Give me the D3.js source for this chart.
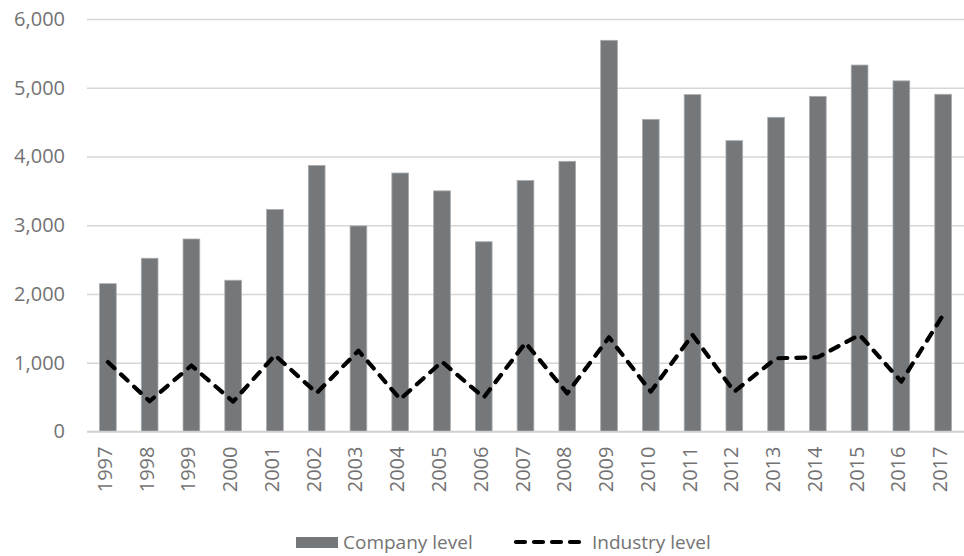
<!DOCTYPE html>
<html><head><meta charset="utf-8">
<script src="https://cdn.jsdelivr.net/npm/d3@7"></script>
<style>
body{margin:0;background:#fff;}
text{font-family:"Open Sans","Lato",sans-serif;fill:#737373;}
</style></head>
<body><svg id="c" width="964" height="556"></svg>
<script>
const years = ["1997","1998","1999","2000","2001","2002","2003","2004","2005","2006","2007","2008","2009","2010","2011","2012","2013","2014","2015","2016","2017"];
const companyLevel = [2150,2520,2800,2200,3230,3870,2990,3760,3500,2760,3650,3930,5690,4540,4900,4230,4570,4875,5330,5100,4905];
const industryLevel = [1010,440,960,435,1110,560,1175,470,1015,495,1290,555,1370,580,1405,580,1065,1080,1405,725,1695];
const yTicks = [0,1000,2000,3000,4000,5000,6000];
const seriesNames = ["Company level","Industry level"];

const svg = d3.select("#c");
const m = {left:87, right:964, top:19, bottom:431.5};
const x = d3.scaleBand().domain(years).range([m.left,m.right]).paddingInner(0.6).paddingOuter(0.3);
const y = d3.scaleLinear().domain([0,6000]).range([m.bottom,m.top]);
const fmt = d3.format(",");

// grid
const yAxis = d3.axisLeft(y).tickValues(yTicks).tickFormat(fmt).tickSize(-(m.right-m.left)).tickPadding(22);
const gy = svg.append("g").attr("transform",`translate(${m.left},0)`).call(yAxis);
gy.select(".domain").remove();
gy.selectAll(".tick line").attr("stroke","#d6d6d6").attr("stroke-width",1.5);
gy.selectAll(".tick text").style("font-size","20px").attr("fill","#737373");

// bars
svg.append("g").selectAll("rect").data(years).join("rect")
  .attr("x",d=>x(d)).attr("width",x.bandwidth())
  .attr("y",(d,i)=>y(companyLevel[i])).attr("height",(d,i)=>y(0)-y(companyLevel[i]))
  .attr("fill","#75787b").attr("stroke","#a9abad").attr("stroke-width",0.8);

// x axis baseline
svg.append("line").attr("x1",m.left).attr("x2",m.right).attr("y1",y(0)).attr("y2",y(0))
  .attr("stroke","#d0d0d0").attr("stroke-width",1.5);

// x labels
const xAxis = d3.axisBottom(x).tickSize(0).tickPadding(0);
const gx = svg.append("g").attr("transform",`translate(0,${y(0)})`).call(xAxis);
gx.select(".domain").remove();
gx.selectAll(".tick text")
  .attr("transform","translate(0,15) rotate(-90)")
  .attr("text-anchor","end").attr("dy","0.35em").attr("x",0).attr("y",-3)
  .style("font-size","20px").attr("fill","#737373");

// line
const line = d3.line().x((d,i)=>x(years[i])+x.bandwidth()/2).y(d=>y(d));
svg.append("path").datum(industryLevel).attr("d",line)
  .attr("fill","none").attr("stroke","#000").attr("stroke-width",4.2)
  .attr("stroke-dasharray","9,9").attr("stroke-linecap","round").attr("stroke-linejoin","round");

// legend
const lg = svg.append("g");
lg.append("rect").attr("x",296).attr("y",537).attr("width",42).attr("height",11).attr("fill","#75787b");
lg.append("text").attr("x",343).attr("y",542).attr("dy","0.35em").style("font-size","19px").text(seriesNames[0]);
lg.append("line").attr("x1",516).attr("x2",587).attr("y1",542).attr("y2",542)
  .attr("stroke","#000").attr("stroke-width",4.2).attr("stroke-dasharray","9,9").attr("stroke-linecap","round");
lg.append("text").attr("x",592).attr("y",542).attr("dy","0.35em").style("font-size","19px").text(seriesNames[1]);
</script></body></html>
